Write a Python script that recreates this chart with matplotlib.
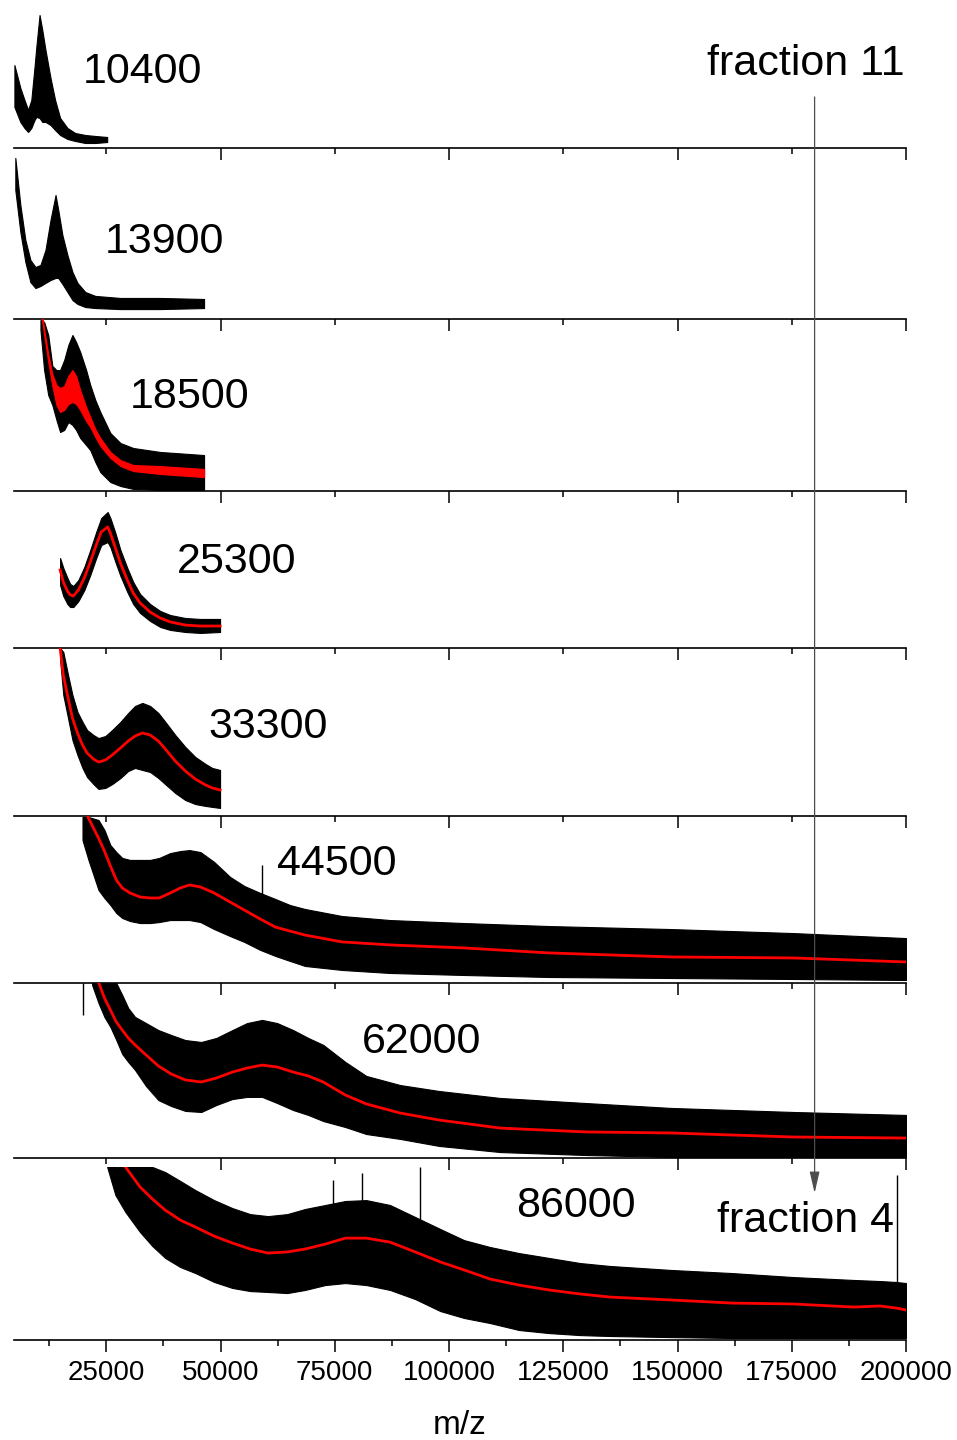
import matplotlib
matplotlib.use('Agg')
import matplotlib.pyplot as plt
from matplotlib.patches import ConnectionPatch
from matplotlib.ticker import MultipleLocator

plt.rcParams['font.family'] = ['Liberation Sans', 'DejaVu Sans']

# labelled peak m/z, fraction 11 (top) down to fraction 4 (bottom)
peak_labels = ['10400', '13900', '18500', '25300', '33300', '44500', '62000', '86000']

# m/z and relative intensity (% of panel height)
# hi / lo = envelope of raw spectrum (black), red = smoothed spectrum
mz1 = [4900, 6200, 7100, 7900, 8600, 9300, 9700, 10400, 11000, 11700, 12800, 13800, 14900, 16500, 18200, 20400, 22600, 25200]
hi1 = [58.0, 42.0, 33.6, 26.6, 33.6, 56.6, 70.8, 93.0, 82.5, 68.5, 49.0, 33.6, 21.0, 14.0, 10.5, 9.1, 8.4, 7.7]
lo1 = [28.7, 18.2, 14.0, 11.2, 14.0, 19.6, 21.7, 21.0, 18.2, 18.2, 16.1, 12.6, 9.1, 6.3, 4.9, 3.5, 3.5, 4.2]

mz2 = [5100, 6200, 7300, 8400, 9500, 10600, 11700, 12800, 13900, 14500, 15400, 16500, 17600, 18700, 20400, 22600, 28100, 36800, 46400]
hi2 = [94.2, 66.7, 46.2, 34.5, 30.4, 31.6, 40.4, 57.9, 72.5, 63.7, 49.1, 37.4, 27.5, 21.1, 15.8, 13.5, 12.3, 12.3, 11.7]
lo2 = [75.4, 50.9, 33.3, 21.6, 18.1, 19.3, 21.1, 22.8, 24.0, 24.0, 20.5, 15.8, 11.1, 8.8, 7.0, 6.4, 5.8, 5.8, 6.4]

mz3 = [10600, 11400, 12300, 13200, 14100, 14900, 15800, 16700, 17600, 18400, 19300, 20600, 21500, 22600, 23700, 25900, 28100, 30900, 36800, 46400]
hi3 = [99.4, 98.3, 90.7, 72.7, 70.3, 70.3, 76.2, 84.9, 90.7, 86.6, 80.8, 70.3, 61.6, 52.9, 45.9, 33.7, 27.9, 25.0, 22.7, 20.9]
lo3 = [93.6, 70.3, 55.8, 50.0, 41.3, 34.3, 35.5, 40.1, 38.4, 35.5, 30.8, 26.7, 23.8, 16.9, 11.0, 5.2, 2.9, 1.2, 0.6, 0.6]
red3_hi = [109.9, 94.2, 79.7, 68.0, 61.6, 59.9, 61.0, 66.9, 70.3, 66.9, 58.7, 48.8, 43.0, 36.0, 30.8, 22.7, 18.0, 15.1, 14.5, 12.8]
red3_lo = [106.4, 90.7, 75.0, 61.0, 50.0, 45.9, 47.1, 50.6, 51.7, 50.6, 47.1, 40.7, 37.2, 31.4, 26.2, 19.2, 14.5, 11.6, 9.9, 8.1]

mz4 = [14900, 15600, 16500, 17100, 17800, 18900, 20200, 21500, 22800, 23900, 25300, 25900, 27000, 28100, 29600, 30900, 32400, 34600, 36800, 39000, 42300, 45600, 49900]
red4 = [49.7, 42.0, 36.3, 33.8, 33.1, 36.9, 44.6, 54.8, 65.6, 73.9, 77.1, 73.2, 63.7, 54.1, 43.3, 35.0, 28.7, 22.9, 19.1, 16.6, 14.6, 14.0, 14.0]
hi4 = [57.3, 51.0, 44.6, 40.8, 39.5, 43.3, 51.6, 62.4, 73.9, 82.8, 86.6, 82.8, 73.2, 62.4, 51.0, 42.0, 34.4, 28.0, 23.6, 21.0, 19.1, 18.5, 18.5]
lo4 = [40.1, 33.1, 28.0, 26.1, 26.1, 29.9, 36.9, 46.5, 57.3, 65.6, 67.5, 64.3, 54.8, 45.9, 35.7, 28.0, 22.3, 17.2, 13.4, 11.5, 10.2, 9.6, 10.2]

mz5 = [14900, 15600, 16500, 17600, 18700, 19800, 20800, 22200, 23300, 24800, 26300, 28100, 29800, 31300, 32900, 34600, 36400, 38100, 40100, 42300, 44500, 46700, 48200, 49900]
red5 = [100.0, 83.9, 72.0, 58.3, 49.4, 42.3, 37.5, 33.9, 32.1, 33.3, 36.3, 40.5, 44.6, 47.6, 49.4, 48.2, 44.6, 39.3, 32.7, 26.8, 22.0, 18.5, 16.7, 15.5]
hi5 = [100.0, 97.6, 85.7, 72.0, 61.9, 56.0, 51.2, 48.2, 46.4, 47.6, 51.2, 56.0, 61.3, 65.5, 67.3, 65.5, 61.3, 55.4, 48.2, 41.1, 35.1, 31.0, 28.6, 27.4]
lo5 = [92.9, 72.0, 60.1, 45.2, 36.3, 28.6, 23.2, 19.0, 16.1, 16.7, 19.0, 22.6, 26.8, 28.6, 27.4, 26.2, 22.6, 18.5, 13.7, 9.5, 7.1, 6.0, 5.4, 4.8]

mz6 = [19800, 21100, 23300, 24600, 25900, 27200, 28500, 30200, 32400, 34600, 36600, 39000, 41200, 43200, 45600, 48600, 52100, 55200, 58700, 62000, 65200, 68500, 76600, 87100, 103300, 121900, 148600, 175300, 200000]
red6 = [109.6, 98.8, 86.8, 79.0, 70.1, 61.7, 56.9, 53.9, 51.5, 50.9, 50.9, 53.9, 56.9, 58.7, 57.5, 53.9, 48.5, 43.7, 38.3, 33.5, 31.1, 28.7, 24.6, 22.8, 21.0, 18.0, 15.6, 15.0, 12.6]
hi6 = [99.4, 99.4, 97.6, 91.6, 82.6, 78.4, 74.9, 73.7, 73.7, 73.7, 74.9, 77.8, 79.0, 79.6, 78.4, 72.5, 63.5, 58.1, 53.9, 50.3, 46.7, 44.3, 40.1, 37.7, 35.9, 34.1, 32.3, 29.9, 26.9]
lo6 = [85.6, 73.7, 55.7, 50.9, 46.7, 41.9, 38.9, 37.1, 35.9, 35.9, 36.5, 37.7, 37.7, 37.7, 36.5, 32.3, 28.1, 24.6, 19.8, 16.2, 13.2, 10.2, 7.8, 6.0, 4.8, 3.6, 3.0, 2.4, 1.8]

mz7 = [21900, 23300, 24600, 25900, 27200, 28500, 29800, 31300, 33700, 36400, 39200, 42300, 45800, 49100, 52600, 55800, 59100, 62400, 65900, 69200, 72500, 77300, 81900, 89300, 97800, 111200, 130000, 148600, 175300, 200000]
red7 = [107.4, 100.6, 91.4, 84.6, 77.7, 73.1, 68.6, 64.6, 58.9, 52.6, 48.0, 44.6, 43.4, 45.7, 49.1, 51.4, 53.1, 52.0, 49.1, 46.9, 43.4, 36.0, 30.9, 25.7, 21.7, 17.1, 14.9, 14.3, 12.0, 11.4]
hi7 = [100.0, 100.0, 100.0, 100.0, 100.0, 93.1, 85.7, 80.6, 77.1, 73.1, 70.3, 67.4, 66.3, 68.6, 73.1, 77.1, 78.9, 77.1, 73.1, 68.6, 64.6, 54.9, 46.9, 41.7, 38.3, 34.3, 31.4, 28.6, 26.3, 24.6]
lo7 = [98.9, 88.6, 80.6, 74.9, 67.4, 59.4, 54.9, 50.3, 41.1, 33.1, 29.7, 26.9, 26.3, 30.3, 33.7, 34.9, 34.9, 31.4, 27.4, 24.6, 21.1, 17.7, 13.7, 10.9, 6.9, 3.4, 1.7, 0.6, 0.6, 0.6]

mz8 = [25200, 27000, 29200, 32400, 35100, 37900, 41200, 44500, 48600, 52600, 56500, 60400, 64600, 68500, 72900, 77300, 81900, 87100, 92600, 98100, 103300, 109000, 115300, 121900, 128700, 135200, 148600, 161900, 175300, 188600, 194300, 197800, 200000]
red8 = [109.9, 104.4, 95.1, 84.1, 77.5, 71.4, 65.9, 62.1, 57.1, 53.3, 50.0, 47.8, 48.4, 50.0, 52.7, 56.0, 56.0, 53.8, 48.4, 42.9, 38.5, 33.5, 30.2, 27.5, 25.3, 23.6, 22.0, 20.3, 19.8, 18.1, 18.7, 17.6, 16.5]
hi8 = [95.1, 95.1, 95.1, 95.1, 95.1, 92.3, 87.4, 82.4, 76.9, 72.5, 69.2, 68.1, 69.2, 72.0, 74.2, 76.4, 76.9, 74.2, 67.6, 61.0, 54.9, 51.1, 47.8, 45.1, 42.3, 40.7, 38.5, 36.8, 34.6, 33.0, 32.4, 31.9, 31.3]
lo8 = [95.1, 79.7, 70.3, 59.3, 51.6, 45.1, 40.1, 36.8, 31.9, 28.6, 26.9, 26.4, 25.8, 27.5, 30.2, 31.3, 30.2, 27.5, 22.5, 15.9, 12.1, 9.3, 5.5, 3.8, 2.7, 2.2, 1.6, 1.1, 1.1, 1.1, 1.1, 1.1, 1.1]

# isolated spikes in the raw spectra: panel index, m/z, base, tip
spike_panel = [5, 6, 7, 7, 7, 7]
spike_mz = [59100, 19800, 74600, 81000, 93700, 198000]
spike_base = [50.0, 81.7, 70.0, 70.0, 60.0, 30.0]
spike_tip = [70.7, 100.0, 87.9, 91.8, 95.1, 90.7]

mz_all = [mz1, mz2, mz3, mz4, mz5, mz6, mz7, mz8]
hi_all = [hi1, hi2, hi3, hi4, hi5, hi6, hi7, hi8]
lo_all = [lo1, lo2, lo3, lo4, lo5, lo6, lo7, lo8]
red_all = [None, None, None, red4, red5, red6, red7, red8]

# layout in pixels
W, H = 957, 1440
fig = plt.figure(figsize=(W / 100, H / 100), dpi=100)
x0, x1 = 13.5, 906
tops = [5, 148, 319, 491, 648, 816, 983, 1167]
bots = [148, 319, 491, 648, 816, 983, 1158, 1340]
ymax = [100, 100, 100, 100, 100, 100, 100, 95.1]

axes = []
for i in range(8):
    ax = fig.add_axes([x0 / W, 1 - bots[i] / H, (x1 - x0) / W, (bots[i] - tops[i]) / H])
    ax.fill_between(mz_all[i], lo_all[i], hi_all[i], color='black', lw=0.8)
    if i == 2:
        ax.fill_between(mz3, red3_lo, red3_hi, color='red', lw=0.8)
    elif red_all[i] is not None:
        ax.plot(mz_all[i], red_all[i], color='red', lw=2)
    for p, m, b, t in zip(spike_panel, spike_mz, spike_base, spike_tip):
        if p == i:
            ax.vlines(m, b, t, color='black', lw=1)
    ax.set_xlim(4700, 200000)
    ax.set_ylim(0, ymax[i])
    for s in ['top', 'left', 'right']:
        ax.spines[s].set_visible(False)
    ax.spines['bottom'].set_linewidth(1.2)
    ax.set_yticks([])
    if i < 7:
        # stacked panels: long ticks every 50000, short every 25000
        ax.xaxis.set_major_locator(MultipleLocator(50000))
        ax.xaxis.set_minor_locator(MultipleLocator(25000))
        ax.tick_params(axis='x', labelbottom=False)
    else:
        ax.xaxis.set_major_locator(MultipleLocator(25000))
        ax.xaxis.set_minor_locator(MultipleLocator(12500))
    ax.tick_params(axis='x', which='major', direction='out', length=8.6, width=1.1, labelsize=20, pad=6)
    ax.tick_params(axis='x', which='minor', direction='out', length=4.3, width=1.1)
    ax.patch.set_alpha(0)
    axes.append(ax)

fig.text(460 / W, 1 - 1425 / H, 'm/z', fontsize=24, ha='center', va='center')

# peak labels (left x, baseline y in px)
lab_x = [83, 105, 130, 177, 208, 277, 362, 516]
lab_y = [83, 253, 408, 573, 738, 875, 1053, 1217]
for s, lx, ly in zip(peak_labels, lab_x, lab_y):
    fig.text(lx / W, 1 - ly / H, s, fontsize=31, ha='left', va='baseline')
fig.text(707 / W, 1 - 75 / H, 'fraction 11', fontsize=31, ha='left', va='baseline')
fig.text(717 / W, 1 - 1232 / H, 'fraction 4', fontsize=31, ha='left', va='baseline')

con = ConnectionPatch(xyA=(180000, 35.7), coordsA=axes[0].transData,
                      xyB=(180000, 80.8), coordsB=axes[7].transData,
                      arrowstyle='-|>,head_length=0.65,head_width=0.15',
                      mutation_scale=20, color='0.3', lw=0.9)
fig.add_artist(con)

fig.savefig('out.png', dpi=100)
